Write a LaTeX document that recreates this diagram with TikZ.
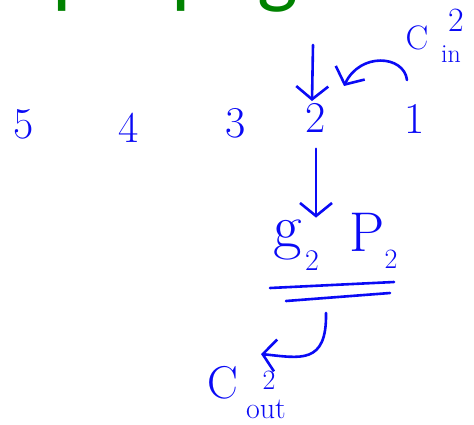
\documentclass[tikz,border=0pt]{standalone}
\usepackage{fontspec}
\newfontfamily\carlito{Carlito}
\usetikzlibrary{arrows.meta}
\definecolor{inkblue}{RGB}{10,10,245}
\definecolor{titlegreen}{RGB}{0,130,0}
\tikzset{
  hand/.style={draw=inkblue, line width=2.6pt, line cap=round, line join=round},
  barb/.style={-{Straight Barb[length=13pt,width=32pt,line width=2.6pt]}},
  digit/.style={text=inkblue, inner sep=0pt, font=\fontsize{44}{44}\selectfont},
  lbl/.style={text=inkblue, inner sep=0pt},
}
\begin{document}
\begin{tikzpicture}[x=1pt,y=-1pt]
\useasboundingbox (0,0) rectangle (474,424);
% title (only descenders visible)
\node[anchor=base west, inner sep=0pt, text=titlegreen, font=\fontsize{86}{86}\selectfont\carlito] (title) at (52,-3) {propagate};
% bit positions
\node[digit] (n5) at (24,124) {5};
\node[digit] (n4) at (129,128) {4};
\node[digit] (n3) at (236,123) {3};
\node[digit] (n2) at (316,118) {2};
\node[digit] (n1) at (415,119) {1};
% C_in^2
\node[lbl, font=\fontsize{34}{34}\selectfont] (cin) at (417,38) {C};
\node[lbl, font=\fontsize{34}{34}\selectfont] (cinsup) at (456,20) {2};
\node[lbl, font=\fontsize{26}{26}\selectfont] (cinsub) at (451,54) {in};
% g_2 P_2
\node[lbl, font=\fontsize{62}{62}\selectfont] (g) at (288,240) {g};
\node[lbl, font=\fontsize{30}{30}\selectfont] (gsub) at (312,261) {2};
\node[lbl, font=\fontsize{56}{56}\selectfont] (p) at (367,232) {P};
\node[lbl, font=\fontsize{28}{28}\selectfont] (psub) at (391,259) {2};
% C_out^2
\node[lbl, font=\fontsize{46}{46}\selectfont] (cout) at (223,383) {C};
\node[lbl, font=\fontsize{28}{28}\selectfont] (coutsup) at (269,380) {2};
\node[lbl, font=\fontsize{30}{30}\selectfont] (coutsub) at (266,409) {out};
% coordinates
\coordinate (top2) at (313,45);
\coordinate (cinstart) at (407,80);
\coordinate (cinend) at (344,86);
\coordinate (bar1a) at (270,288);
\coordinate (bar1b) at (394,282);
\coordinate (bar2a) at (286,301);
\coordinate (bar2b) at (390,293);
\coordinate (outstart) at (326,313);
\coordinate (outend) at (261,354);
% connectors
\draw[hand, barb] (top2) -- (312,101);
\draw[hand, barb] (cinstart) .. controls (404,55) and (360,52) .. (cinend);
\draw[hand, barb, shorten <=16pt, shorten >=2pt] (n2.south) -- (g.north -| n2.south);
\draw[hand] (bar1a) -- (bar1b);
\draw[hand] (bar2a) -- (bar2b);
\draw[hand, barb] (outstart) .. controls (327,365) and (300,358) .. (outend);
\end{tikzpicture}
\end{document}
